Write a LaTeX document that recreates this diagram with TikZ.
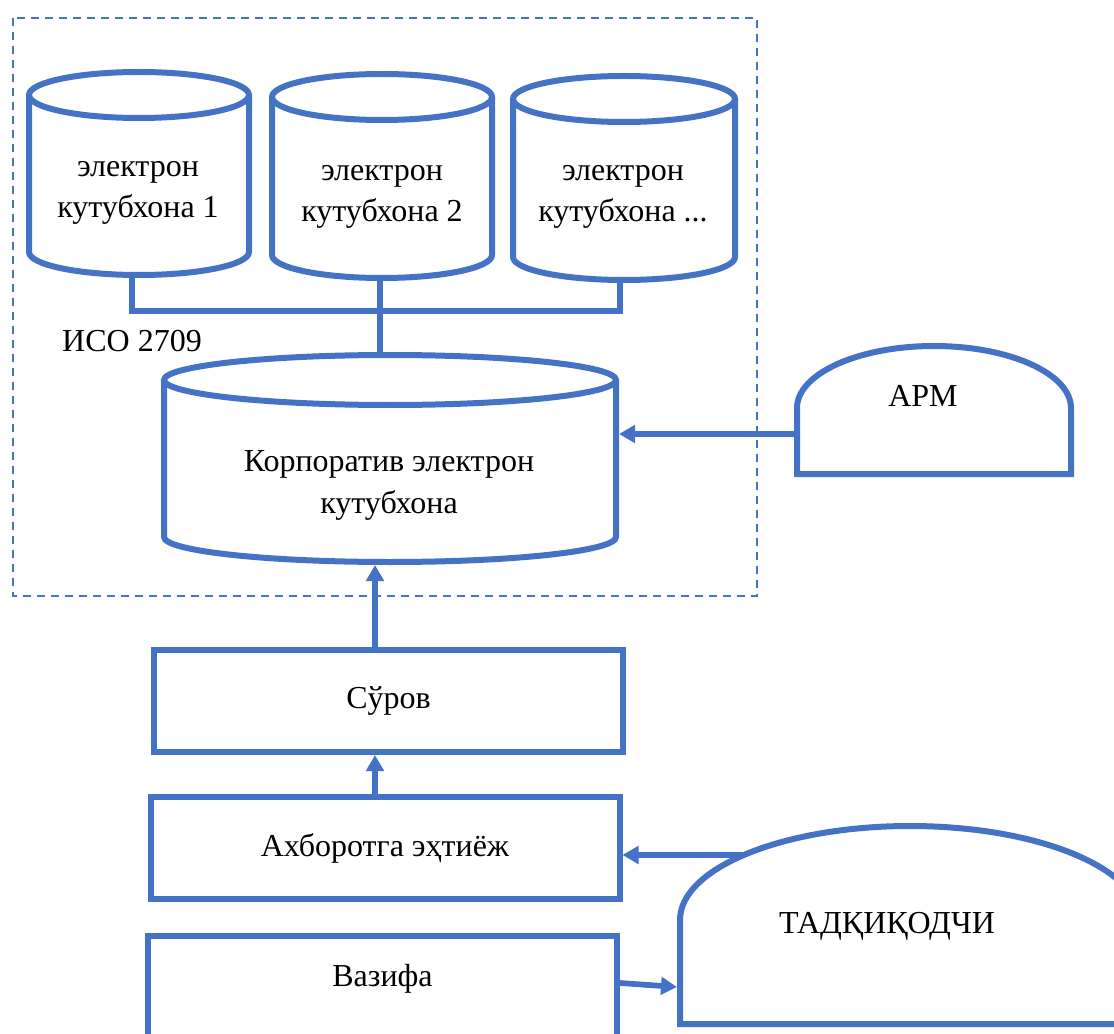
\documentclass[tikz,border=0pt]{standalone}
\usepackage{fontspec}
\setmainfont{Liberation Serif}
\usetikzlibrary{arrows.meta}
\definecolor{bl}{HTML}{4472C4}
\newcommand\dbcyl[5]{% cx, ytop, ybot, rx, ry
  \draw[ln,fill=white] (#1-#4,#2) -- (#1-#4,#3) arc[start angle=180,end angle=0,x radius=#4,y radius=#5] -- (#1+#4,#2);
  \draw[ln] (#1,#2) ellipse[x radius=#4,y radius=#5];}
\begin{document}
\begin{tikzpicture}[x=0.75pt,y=-0.75pt,
  ln/.style={draw=bl,line width=4.5pt},
  arr/.style={draw=bl,line width=4.3pt,-{Triangle[length=12pt,width=13pt]}},
  txt/.style={font=\fontsize{24}{31}\selectfont,align=center,anchor=base,inner sep=0pt},
  boxst/.style={draw=bl,line width=4.5pt,font=\fontsize{24}{31}\selectfont,inner sep=0pt,minimum width=351.75pt},
  frame/.style={draw=bl,line width=1.6pt,dash pattern=on 6pt off 4.5pt}]
\useasboundingbox (0,0) rectangle (1114,1034);
\clip (0,0) rectangle (1114,1034);

% dashed frame
\draw[frame] (13,18) rectangle (757,596);

% connection points
\coordinate (c1b) at (132,275);
\coordinate (c2b) at (380,278);
\coordinate (c3b) at (620,280);
\coordinate (bus) at (380,311);
\coordinate (bigt) at (380,355);
\coordinate (bigb) at (375,565);
\coordinate (bigr) at (619,434);
\coordinate (apml) at (797,434);
\coordinate (tadl) at (744,855);
\coordinate (tadw) at (677,987);

% bus lines
\draw[ln] (c1b) -- (c1b|-bus) -- (c3b|-bus) -- (c3b);
\draw[ln] (c2b) -- (bigt);

% cylinders
\dbcyl{139}{95}{252}{110}{23}
\dbcyl{382}{97}{255}{110}{23}
\dbcyl{624}{99}{257}{111}{23}
\dbcyl{390}{380}{537}{226}{25}

\node[txt] (cyl1) at (138,218) {электрон\\кутубхона 1};
\node[txt] (cyl2) at (382,222) {электрон\\кутубхона 2};
\node[txt] (cyl3) at (623,222) {электрон\\кутубхона ...};
\node[txt] (iso) at (132,352) {ИСО 2709};
\node[txt] (corp) at (389,513) {Корпоратив электрон\\кутубхона};

% APM
\draw[ln] (797,474) -- (797,408) arc[start angle=180,end angle=360,x radius=137,y radius=62] -- (1071,474) -- cycle;
\node[txt] (apm) at (923,406) {АРМ};

% researcher
\draw[ln] (680,1024) -- (680,920) arc[start angle=180,end angle=360,x radius=230,y radius=94] -- (1140,1024) -- cycle;
\node[txt] (tad) at (887,933) {ТАДҚИҚОДЧИ};

% boxes
\node[boxst,minimum height=76.5pt] (sur) at (388.5,701) {Сўров};
\node[boxst,minimum height=76.5pt] (ahb) at (385,848) {Ахборотга эҳтиёж};
\node[boxst,minimum height=81pt,text height=17pt,text depth=22pt] (vaz) at (382.5,990) {Вазифа};

% arrows
\draw[arr] (apml) -- (bigr);
\draw[arr] (sur.north -| bigb) -- (bigb);
\draw[arr] (ahb.north -| bigb) -- (sur.south -| bigb);
\draw[arr] (tadl) -- (ahb.east |- tadl);
\draw[arr] (vaz.east |- 0,983) -- (tadw);
\end{tikzpicture}
\end{document}
